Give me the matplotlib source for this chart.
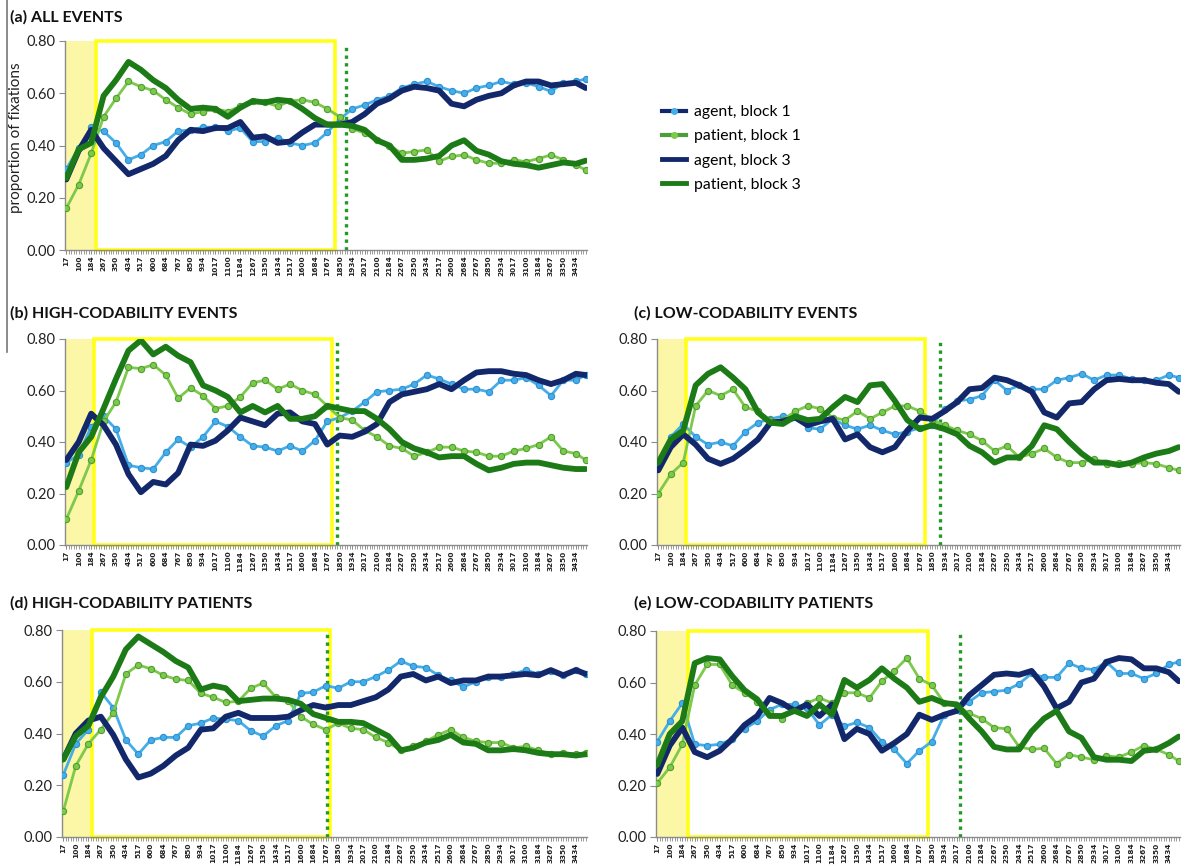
import numpy as np
import matplotlib
matplotlib.use("Agg")
import matplotlib.pyplot as plt
from matplotlib.lines import Line2D
from matplotlib.patches import Rectangle

# ---- time axis (ms from onset) ----
time_labels = ["17", "100", "184", "267", "350", "434", "517", "600", "684", "767",
               "850", "934", "1017", "1100", "1184", "1267", "1350", "1434", "1517", "1600",
               "1684", "1767", "1850", "1934", "2017", "2100", "2184", "2267", "2350", "2434",
               "2517", "2600", "2684", "2767", "2850", "2934", "3017", "3100", "3184", "3267",
               "3350", "3434"]
last_sample_ms = 3500

# ---- (a) all events ----
a_agent_b1 = [0.31, 0.39, 0.47, 0.455, 0.41, 0.345, 0.365, 0.40, 0.415, 0.455, 0.46, 0.47, 0.47, 0.455, 0.467,
              0.415, 0.415, 0.43, 0.41, 0.40, 0.41, 0.45, 0.50, 0.54, 0.555, 0.575, 0.59, 0.62, 0.635, 0.645,
              0.625, 0.61, 0.60, 0.62, 0.63, 0.645, 0.635, 0.64, 0.625, 0.607, 0.64, 0.645, 0.655]
a_patient_b1 = [0.16, 0.25, 0.37, 0.51, 0.58, 0.645, 0.625, 0.61, 0.575, 0.545, 0.52, 0.53, 0.54, 0.53, 0.55,
                0.57, 0.565, 0.55, 0.57, 0.575, 0.565, 0.54, 0.51, 0.465, 0.447, 0.42, 0.40, 0.37, 0.377, 0.383,
                0.34, 0.358, 0.364, 0.345, 0.332, 0.332, 0.345, 0.338, 0.35, 0.364, 0.345, 0.326, 0.306]
a_agent_b3 = [0.27, 0.38, 0.46, 0.39, 0.34, 0.29, 0.31, 0.33, 0.36, 0.42, 0.46, 0.455, 0.467, 0.467, 0.49,
              0.43, 0.435, 0.41, 0.415, 0.45, 0.48, 0.48, 0.48, 0.49, 0.52, 0.56, 0.58, 0.61, 0.625, 0.62,
              0.61, 0.56, 0.55, 0.575, 0.59, 0.60, 0.63, 0.645, 0.645, 0.63, 0.635, 0.64, 0.62]
a_patient_b3 = [0.275, 0.385, 0.41, 0.59, 0.65, 0.72, 0.69, 0.65, 0.62, 0.575, 0.54, 0.545, 0.54, 0.51, 0.545,
                0.57, 0.565, 0.575, 0.57, 0.54, 0.505, 0.48, 0.48, 0.475, 0.46, 0.42, 0.40, 0.345, 0.345, 0.35,
                0.36, 0.40, 0.42, 0.38, 0.365, 0.34, 0.33, 0.325, 0.315, 0.325, 0.335, 0.33, 0.342]

# ---- (b) high-codability events ----
b_agent_b1 = [0.32, 0.35, 0.46, 0.50, 0.45, 0.31, 0.30, 0.295, 0.36, 0.41, 0.38, 0.42, 0.48, 0.46, 0.42,
              0.385, 0.38, 0.365, 0.385, 0.365, 0.405, 0.48, 0.495, 0.52, 0.555, 0.595, 0.60, 0.605, 0.625, 0.66,
              0.645, 0.625, 0.605, 0.605, 0.595, 0.64, 0.64, 0.65, 0.62, 0.58, 0.64, 0.64, 0.66]
b_patient_b1 = [0.10, 0.21, 0.33, 0.48, 0.555, 0.69, 0.685, 0.70, 0.66, 0.57, 0.61, 0.58, 0.53, 0.54, 0.575,
                0.63, 0.64, 0.605, 0.625, 0.60, 0.585, 0.54, 0.495, 0.485, 0.445, 0.42, 0.385, 0.375, 0.345, 0.36,
                0.38, 0.38, 0.365, 0.36, 0.345, 0.345, 0.365, 0.375, 0.39, 0.42, 0.365, 0.355, 0.33]
b_agent_b3 = [0.33, 0.40, 0.51, 0.465, 0.39, 0.275, 0.205, 0.245, 0.235, 0.28, 0.39, 0.385, 0.405, 0.445, 0.495,
              0.48, 0.465, 0.51, 0.515, 0.48, 0.47, 0.39, 0.425, 0.42, 0.44, 0.47, 0.555, 0.585, 0.595, 0.605,
              0.625, 0.605, 0.64, 0.67, 0.675, 0.675, 0.665, 0.66, 0.64, 0.625, 0.64, 0.665, 0.66]
b_patient_b3 = [0.225, 0.36, 0.42, 0.53, 0.645, 0.755, 0.795, 0.74, 0.77, 0.735, 0.71, 0.62, 0.60, 0.575, 0.515,
                0.54, 0.515, 0.54, 0.49, 0.49, 0.50, 0.54, 0.53, 0.52, 0.52, 0.49, 0.45, 0.40, 0.375, 0.36,
                0.34, 0.345, 0.345, 0.315, 0.29, 0.30, 0.315, 0.32, 0.32, 0.31, 0.30, 0.295, 0.295]

# ---- (c) low-codability events ----
c_agent_b1 = [0.315, 0.42, 0.47, 0.42, 0.39, 0.40, 0.385, 0.44, 0.475, 0.49, 0.50, 0.50, 0.455, 0.45, 0.49,
              0.465, 0.45, 0.465, 0.445, 0.43, 0.44, 0.455, 0.465, 0.53, 0.56, 0.565, 0.58, 0.64, 0.60, 0.62,
              0.605, 0.605, 0.64, 0.65, 0.665, 0.64, 0.66, 0.66, 0.645, 0.64, 0.64, 0.66, 0.65]
c_patient_b1 = [0.20, 0.275, 0.32, 0.54, 0.60, 0.58, 0.605, 0.535, 0.52, 0.485, 0.485, 0.52, 0.54, 0.53, 0.495,
                0.485, 0.52, 0.49, 0.515, 0.54, 0.54, 0.52, 0.485, 0.465, 0.445, 0.43, 0.405, 0.365, 0.385, 0.34,
                0.355, 0.375, 0.34, 0.32, 0.32, 0.335, 0.315, 0.32, 0.315, 0.32, 0.315, 0.30, 0.29]
c_agent_b3 = [0.29, 0.38, 0.43, 0.39, 0.335, 0.315, 0.335, 0.37, 0.41, 0.475, 0.48, 0.495, 0.465, 0.48, 0.49,
              0.41, 0.43, 0.38, 0.36, 0.38, 0.445, 0.495, 0.49, 0.52, 0.555, 0.605, 0.61, 0.65, 0.64, 0.62,
              0.595, 0.515, 0.495, 0.55, 0.555, 0.605, 0.64, 0.645, 0.64, 0.64, 0.63, 0.625, 0.595]
c_patient_b3 = [0.32, 0.41, 0.445, 0.62, 0.665, 0.69, 0.65, 0.605, 0.515, 0.475, 0.47, 0.50, 0.485, 0.49, 0.535,
                0.575, 0.555, 0.62, 0.625, 0.56, 0.485, 0.45, 0.465, 0.45, 0.43, 0.385, 0.36, 0.32, 0.34, 0.34,
                0.385, 0.465, 0.45, 0.40, 0.355, 0.32, 0.32, 0.31, 0.32, 0.34, 0.355, 0.365, 0.38]

# ---- (d) high-codability patients ----
d_agent_b1 = [0.24, 0.36, 0.415, 0.56, 0.50, 0.375, 0.32, 0.375, 0.385, 0.385, 0.43, 0.44, 0.46, 0.455, 0.45,
              0.41, 0.39, 0.43, 0.45, 0.555, 0.56, 0.585, 0.575, 0.60, 0.60, 0.62, 0.645, 0.68, 0.66, 0.655,
              0.625, 0.605, 0.58, 0.60, 0.62, 0.62, 0.63, 0.645, 0.63, 0.64, 0.625, 0.645, 0.63]
d_patient_b1 = [0.10, 0.275, 0.36, 0.415, 0.48, 0.63, 0.665, 0.65, 0.625, 0.61, 0.605, 0.555, 0.54, 0.52, 0.525,
                0.575, 0.595, 0.54, 0.525, 0.465, 0.435, 0.415, 0.44, 0.42, 0.415, 0.385, 0.365, 0.335, 0.35, 0.37,
                0.395, 0.415, 0.385, 0.37, 0.365, 0.365, 0.345, 0.35, 0.335, 0.32, 0.325, 0.32, 0.325]
d_agent_b3 = [0.30, 0.40, 0.45, 0.465, 0.395, 0.30, 0.23, 0.245, 0.275, 0.315, 0.345, 0.415, 0.42, 0.465, 0.48,
              0.46, 0.46, 0.46, 0.465, 0.49, 0.51, 0.50, 0.51, 0.51, 0.525, 0.54, 0.57, 0.62, 0.63, 0.605,
              0.62, 0.595, 0.605, 0.605, 0.62, 0.62, 0.625, 0.63, 0.625, 0.645, 0.625, 0.645, 0.63]
d_patient_b3 = [0.30, 0.39, 0.43, 0.54, 0.62, 0.725, 0.775, 0.745, 0.715, 0.68, 0.655, 0.57, 0.585, 0.575, 0.525,
                0.53, 0.535, 0.535, 0.53, 0.515, 0.475, 0.46, 0.445, 0.445, 0.44, 0.415, 0.39, 0.335, 0.345, 0.365,
                0.375, 0.395, 0.365, 0.36, 0.335, 0.335, 0.34, 0.335, 0.325, 0.32, 0.32, 0.315, 0.32]

# ---- (e) low-codability patients ----
e_agent_b1 = [0.37, 0.45, 0.52, 0.36, 0.355, 0.36, 0.38, 0.42, 0.45, 0.495, 0.515, 0.515, 0.50, 0.435, 0.475,
              0.43, 0.445, 0.425, 0.37, 0.34, 0.285, 0.335, 0.37, 0.475, 0.495, 0.525, 0.56, 0.565, 0.57, 0.595,
              0.635, 0.62, 0.62, 0.675, 0.655, 0.65, 0.68, 0.635, 0.635, 0.615, 0.635, 0.67, 0.68]
e_patient_b1 = [0.21, 0.27, 0.36, 0.59, 0.67, 0.67, 0.59, 0.56, 0.525, 0.48, 0.46, 0.495, 0.52, 0.54, 0.52,
                0.56, 0.56, 0.54, 0.605, 0.645, 0.695, 0.615, 0.59, 0.52, 0.51, 0.48, 0.46, 0.425, 0.42, 0.35,
                0.34, 0.345, 0.285, 0.32, 0.31, 0.30, 0.315, 0.31, 0.33, 0.355, 0.34, 0.32, 0.295]
e_agent_b3 = [0.245, 0.355, 0.425, 0.33, 0.31, 0.335, 0.38, 0.435, 0.47, 0.54, 0.52, 0.49, 0.515, 0.47, 0.515,
              0.38, 0.42, 0.40, 0.335, 0.365, 0.40, 0.475, 0.455, 0.475, 0.49, 0.55, 0.59, 0.63, 0.635, 0.63,
              0.645, 0.585, 0.50, 0.525, 0.60, 0.615, 0.68, 0.695, 0.69, 0.655, 0.655, 0.64, 0.605]
e_patient_b3 = [0.28, 0.40, 0.45, 0.675, 0.695, 0.69, 0.625, 0.57, 0.535, 0.47, 0.47, 0.49, 0.47, 0.515, 0.475,
                0.61, 0.58, 0.61, 0.655, 0.615, 0.58, 0.525, 0.54, 0.52, 0.515, 0.46, 0.41, 0.35, 0.34, 0.34,
                0.41, 0.46, 0.49, 0.41, 0.385, 0.31, 0.30, 0.30, 0.295, 0.335, 0.34, 0.365, 0.39]

series_labels = ["agent, block 1", "patient, block 1", "agent, block 3", "patient, block 3"]

# ---- styling ----
NAVY = "#13286b"
DARK_GREEN = "#1c7a17"
LIGHT_BLUE = "#45aee8"
LIGHT_BLUE_EDGE = "#2d8fd2"
LIGHT_GREEN = "#7cc94c"
LIGHT_GREEN_EDGE = "#4f9f30"
SHADE = "#fbf7a6"
BOX = "#ffff1a"
ONSET = "#1f9a22"
SPINE = "#8c8c8c"

W, H = 1183, 866
fig = plt.figure(figsize=(W / 100, H / 100), dpi=100)
plt.rcParams["font.family"] = ["Lato", "DejaVu Sans"]


def px_rect(left, top, right, bottom):
    return [left / W, 1 - bottom / H, (right - left) / W, (bottom - top) / H]


x = [int(t) for t in time_labels] + [last_sample_ms]
step = 50.0 / 3.0
x_lo, x_hi = step / 2, last_sample_ms + step / 2

panels = [
    ("(a) ALL EVENTS", (65, 41, 587, 250), (10, 17),
     (a_agent_b1, a_patient_b1, a_agent_b3, a_patient_b3), 217, 1822, 1892),
    ("(b) HIGH-CODABILITY EVENTS", (65, 339, 587, 545), (10, 313),
     (b_agent_b1, b_patient_b1, b_agent_b3, b_patient_b3), 205, 1800, 1830),
    ("(c) LOW-CODABILITY EVENTS", (657, 339, 1180, 545), (634, 313),
     (c_agent_b1, c_patient_b1, c_agent_b3, c_patient_b3), 205, 1805, 1900),
    ("(d) HIGH-CODABILITY PATIENTS", (62, 630, 587, 837), (10, 603),
     (d_agent_b1, d_patient_b1, d_agent_b3, d_patient_b3), 205, 1795, 1772),
    ("(e) LOW-CODABILITY PATIENTS", (656, 631, 1180, 837), (634, 603),
     (e_agent_b1, e_patient_b1, e_agent_b3, e_patient_b3), 220, 1827, 2040),
]

for title, rect, tpos, (ag1, pt1, ag3, pt3), win_lo, win_hi, onset in panels:
    ax = fig.add_axes(px_rect(*rect))
    ax.set_xlim(x_lo, x_hi)
    ax.set_ylim(0, 0.8)

    # baseline region and analysis window
    ax.axvspan(x_lo, win_lo, color=SHADE, lw=0, zorder=0)
    ax.add_patch(Rectangle((win_lo, 0), win_hi - win_lo, 0.8, fill=False, ec=BOX,
                           lw=2.6, zorder=1, clip_on=False))
    ax.plot([onset, onset], [0, 0.79], color=ONSET, lw=2.4, ls=(0, (1, 1.3)), zorder=1)

    # block 1 (dotted markers) and block 3 (thick lines)
    ax.plot(x, ag1, color=LIGHT_BLUE, lw=2.0, marker="o", ms=4.5,
            mfc=LIGHT_BLUE, mec=LIGHT_BLUE_EDGE, mew=0.8, zorder=3)
    ax.plot(x, pt1, color=LIGHT_GREEN, lw=2.0, marker="o", ms=4.5,
            mfc=LIGHT_GREEN, mec=LIGHT_GREEN_EDGE, mew=0.8, zorder=3)
    ax.plot(x, ag3, color=NAVY, lw=4.2, solid_capstyle="round", zorder=4)
    ax.plot(x, pt3, color=DARK_GREEN, lw=4.2, solid_capstyle="round", zorder=4)

    for side in ("top", "right"):
        ax.spines[side].set_visible(False)
    for side in ("left", "bottom"):
        ax.spines[side].set_color(SPINE)
        ax.spines[side].set_linewidth(1.0)

    ax.set_yticks([0, 0.2, 0.4, 0.6, 0.8])
    ax.set_yticklabels(["0.00", "0.20", "0.40", "0.60", "0.80"], fontsize=10.5, color="#222222")
    ax.tick_params(axis="y", length=4, color=SPINE, pad=3)

    ax.set_xticks([int(t) for t in time_labels])
    ax.set_xticklabels(time_labels, rotation=90, fontsize=5.3, fontweight="bold",
                       family="DejaVu Sans", color="#222222")
    ax.set_xticks(np.arange(1, 211) * step, minor=True)
    ax.tick_params(axis="x", which="both", length=3, color=SPINE, pad=1, width=0.6)

    fig.text(tpos[0] / W, 1 - tpos[1] / H, title, fontsize=11.5, fontweight="bold",
             va="center", ha="left", color="#111111")

fig.text(16 / W, 1 - 138 / H, "proportion of fixations", rotation=90, fontsize=11,
         va="center", ha="center", color="#222222")
fig.add_artist(Line2D([7 / W, 7 / W], [1, 1 - 352 / H], color="#777777", lw=1.2))

handles = [
    Line2D([], [], color=NAVY, lw=3, marker="o", ms=4, mfc=LIGHT_BLUE, mec=LIGHT_BLUE),
    Line2D([], [], color="#4c9d3c", lw=3, marker="o", ms=4, mfc=LIGHT_GREEN, mec=LIGHT_GREEN),
    Line2D([], [], color=NAVY, lw=3.5),
    Line2D([], [], color=DARK_GREEN, lw=3.5),
]
fig.legend(handles, series_labels, loc="upper left", bbox_to_anchor=(648 / W, 1 - 91 / H),
           frameon=False, fontsize=11.3, handlelength=1.5, handletextpad=0.5, labelspacing=0.65)

fig.savefig("out.png", dpi=100)
